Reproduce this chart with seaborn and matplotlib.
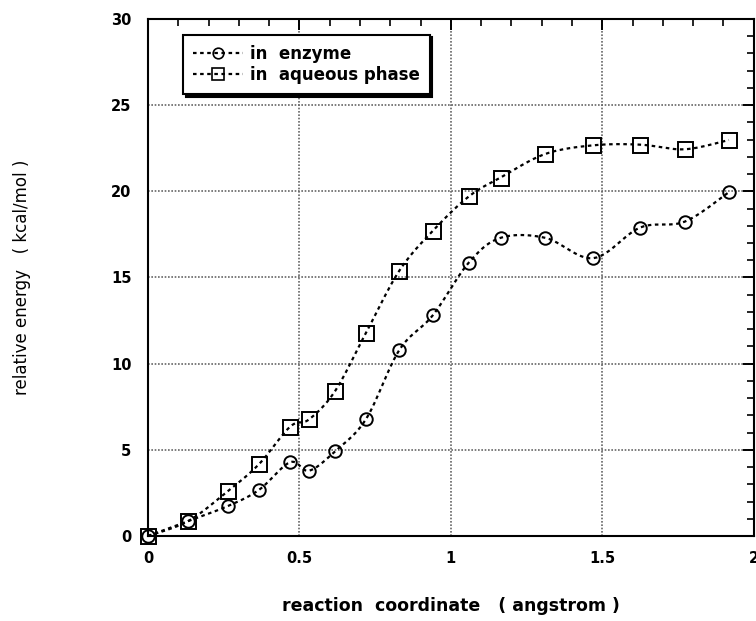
import numpy as np
import pandas as pd
import matplotlib
matplotlib.use("Agg")
import matplotlib.pyplot as plt
import seaborn as sns
from matplotlib.lines import Line2D
from matplotlib.ticker import MultipleLocator

# ---- data ----
coord = [0.0, 0.133, 0.264, 0.366, 0.469, 0.532, 0.618, 0.72, 0.83, 0.94,
         1.059, 1.164, 1.312, 1.47, 1.625, 1.772, 1.918]
energy_enzyme = [0.0, 0.87, 1.74, 2.67, 4.28, 3.79, 4.92, 6.79, 10.8, 12.8,
                 15.86, 17.3, 17.3, 16.12, 17.9, 18.24, 19.95]
energy_aqueous = [0.0, 0.87, 2.61, 4.16, 6.34, 6.77, 8.42, 11.8, 15.4, 17.7,
                  19.7, 20.8, 22.17, 22.67, 22.71, 22.44, 22.98]
series_names = ["in  enzyme", "in  aqueous phase"]
x_ticks = [0, 0.5, 1, 1.5, 2]
x_tick_labels = ["0", "0.5", "1", "1.5", "2"]
y_ticks = [0, 5, 10, 15, 20, 25, 30]


def smooth(xs, ys, n=12):
    """Catmull-Rom curve through the points (rendering only)."""
    p = np.column_stack([xs, ys]).astype(float)
    p = np.vstack([p[0], p, p[-1]])
    out = []
    t = np.linspace(0, 1, n, endpoint=False)[:, None]
    for i in range(1, len(p) - 2):
        p0, p1, p2, p3 = p[i - 1], p[i], p[i + 1], p[i + 2]
        seg = 0.5 * ((2 * p1) + (-p0 + p2) * t + (2 * p0 - 5 * p1 + 4 * p2 - p3) * t ** 2
                     + (-p0 + 3 * p1 - 3 * p2 + p3) * t ** 3)
        out.append(seg)
    out.append(p[-2][None, :])
    out = np.vstack(out)
    return out[:, 0], out[:, 1]


sns.set_style("white")
plt.rcParams['font.family'] = ['DejaVu Sans']
plt.rcParams['text.color'] = 'black'
plt.rcParams['axes.labelcolor'] = 'black'
plt.rcParams['xtick.color'] = 'black'
plt.rcParams['ytick.color'] = 'black'

fig = plt.figure(figsize=(7.56, 6.21), dpi=100)
ax = fig.add_axes([0.1958, 0.1369, 0.8012, 0.8325])

dash = (0, (1.6, 1.6))
lw = 1.6
markers = ["o", "s"]
msizes = [9, 10.8]
for name, ys, mk, ms in zip(series_names, [energy_enzyme, energy_aqueous], markers, msizes):
    sx, sy = smooth(coord, ys)
    df_line = pd.DataFrame({"x": sx, "y": sy})
    sns.lineplot(data=df_line, x="x", y="y", ax=ax, color="black", lw=lw,
                 linestyle=dash, sort=False, estimator=None, legend=False)
    df_pts = pd.DataFrame({"x": coord, "y": ys})
    ax.plot(df_pts["x"], df_pts["y"], linestyle="none", marker=mk, ms=ms,
            mfc="none", mec="black", mew=1.4, clip_on=False, zorder=5)

ax.set_xlim(0, 2)
ax.set_ylim(0, 30)
ax.set_xticks(x_ticks)
ax.set_xticklabels(x_tick_labels)
ax.set_yticks(y_ticks)
ax.xaxis.set_minor_locator(MultipleLocator(0.1))
ax.yaxis.set_minor_locator(MultipleLocator(1))
ax.tick_params(which="both", direction="in", top=True, right=True, color="black")
ax.tick_params(which="major", length=8, width=1.4)
ax.tick_params(which="minor", length=5, width=1.2)
ax.tick_params(axis="x", which="major", pad=11)
ax.tick_params(axis="y", which="major", pad=12)
for lab in ax.get_xticklabels() + ax.get_yticklabels():
    lab.set_fontweight("bold")
    lab.set_fontsize(10.5)
    lab.set_color("black")

ax.grid(True, which="major", color="#666666", linestyle=(0, (1, 1)), lw=1.2)
for s in ax.spines.values():
    s.set_color("black")
    s.set_linewidth(1.5)

ax.set_xlabel("reaction  coordinate   ( angstrom )", fontsize=12.5, fontweight="bold",
              color="black")
ax.xaxis.set_label_coords(0.5, -0.118)
ax.set_ylabel("relative energy   ( kcal/mol )", fontsize=12, color="black")
ax.yaxis.set_label_coords(-0.194, 0.5)

handles = [Line2D([], [], color="black", lw=lw, linestyle=dash, marker=m, ms=ms * 0.85,
                  mfc="none", mec="black", mew=1.2) for m, ms in zip(markers, msizes)]
leg = ax.legend(handles, series_names, loc="upper left", bbox_to_anchor=(0.058, 0.970),
                borderaxespad=0.0,
                prop={"weight": "bold", "size": 12}, handlelength=3.0, handletextpad=0.4,
                borderpad=0.6, labelspacing=0.2, fancybox=False, frameon=True,
                shadow={"color": "black", "alpha": 1.0})
leg.get_frame().set_edgecolor("black")
leg.get_frame().set_linewidth(1.5)
for t in leg.get_texts():
    t.set_color("black")

fig.savefig("out.png", dpi=100)
